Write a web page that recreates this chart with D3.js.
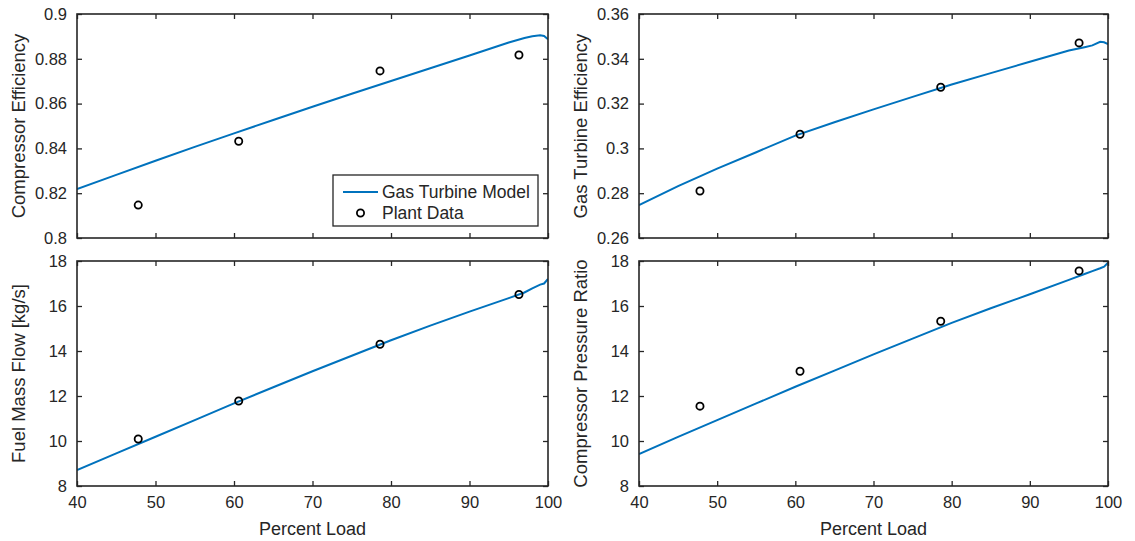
<!DOCTYPE html>
<html>
<head>
<meta charset="utf-8">
<script src="https://cdn.jsdelivr.net/npm/d3@7"></script>
<style>
  body { margin: 0; background: #fff; }
  svg text { font-family: "Liberation Sans", Arial, Helvetica, sans-serif; fill: #262626; }
</style>
</head>
<body>
<div id="chart"></div>
<script>
// model curve sampled along percent load
var loadModel = [40, 45, 50, 55, 60, 65, 70, 75, 80, 85, 90, 95, 97, 98, 99, 99.5, 100];
var compEffModel = [0.8219, 0.8282, 0.8345, 0.8407, 0.8467, 0.8527, 0.8586, 0.8644, 0.8701, 0.8758, 0.8815, 0.8873, 0.8893, 0.8901, 0.8905, 0.8902, 0.8887];
var gtEffModel = [0.2747, 0.2832, 0.2910, 0.2983, 0.3057, 0.3117, 0.3174, 0.3230, 0.3285, 0.3336, 0.3387, 0.3437, 0.3452, 0.3460, 0.3476, 0.3474, 0.3466];
var fuelModel = [8.71, 9.45, 10.19, 10.93, 11.67, 12.39, 13.10, 13.79, 14.48, 15.13, 15.75, 16.35, 16.60, 16.78, 16.95, 17.00, 17.20];
var prModel = [9.42, 10.18, 10.93, 11.67, 12.41, 13.13, 13.85, 14.55, 15.25, 15.90, 16.52, 17.16, 17.42, 17.55, 17.68, 17.75, 17.92];

// plant measurements
var loadPlant = [47.8, 60.6, 78.6, 96.3];
var compEffPlant = [0.8147, 0.8432, 0.8746, 0.8817];
var gtEffPlant = [0.281, 0.3063, 0.3273, 0.3471];
var fuelPlant = [10.09, 11.78, 14.30, 16.51];
var prPlant = [11.55, 13.10, 15.32, 17.56];

var xTicks = [40, 50, 60, 70, 80, 90, 100];

var width = 1135, height = 541;
var blue = "#0072BD", ink = "#262626";

var svg = d3.select("#chart").append("svg")
  .attr("width", width).attr("height", height);

var panels = [
  { x0: 77, x1: 548, y0: 14, y1: 238, dom: [0.8, 0.9], ticks: [0.8, 0.82, 0.84, 0.86, 0.88, 0.9], fmt: d3.format(".2~f"),
    label: "Compressor Efficiency", labelX: 19, model: compEffModel, plant: compEffPlant, legend: true, xlabel: false },
  { x0: 639, x1: 1108, y0: 14, y1: 238, dom: [0.26, 0.36], ticks: [0.26, 0.28, 0.3, 0.32, 0.34, 0.36], fmt: d3.format(".2~f"),
    label: "Gas Turbine Efficiency", labelX: 581, model: gtEffModel, plant: gtEffPlant, xlabel: false },
  { x0: 77, x1: 548, y0: 261, y1: 486, dom: [8, 18], ticks: [8, 10, 12, 14, 16, 18], fmt: d3.format("d"),
    label: "Fuel Mass Flow [kg/s]", labelX: 19, model: fuelModel, plant: fuelPlant, xlabel: true },
  { x0: 639, x1: 1108, y0: 261, y1: 486, dom: [8, 18], ticks: [8, 10, 12, 14, 16, 18], fmt: d3.format("d"),
    label: "Compressor Pressure Ratio", labelX: 581, model: prModel, plant: prPlant, xlabel: true }
];

panels.forEach(function (p) {
  var x = d3.scaleLinear().domain([40, 100]).range([p.x0, p.x1]);
  var y = d3.scaleLinear().domain(p.dom).range([p.y1, p.y0]);
  var g = svg.append("g");

  // clip so the curve stays inside the box
  var cid = "clip" + p.x0 + "_" + p.y0;
  svg.append("clipPath").attr("id", cid).append("rect")
    .attr("x", p.x0).attr("y", p.y0).attr("width", p.x1 - p.x0).attr("height", p.y1 - p.y0);

  var line = d3.line().x(function (d, i) { return x(loadModel[i]); }).y(function (d) { return y(d); });
  g.append("path").datum(p.model)
    .attr("d", line)
    .attr("clip-path", "url(#" + cid + ")")
    .attr("fill", "none").attr("stroke", blue).attr("stroke-width", 2);

  g.selectAll("circle.pt").data(p.plant).enter().append("circle")
    .attr("class", "pt")
    .attr("cx", function (d, i) { return x(loadPlant[i]); })
    .attr("cy", function (d) { return y(d); })
    .attr("r", 3.6)
    .attr("fill", "none").attr("stroke", "#000").attr("stroke-width", 1.8);

  // axes: ticks inward on all four sides
  var tl = 5;
  var ax = g.append("g").attr("class", "axes");
  ax.append("g").attr("transform", "translate(0," + p.y1 + ")")
    .call(d3.axisBottom(x).tickValues(xTicks).tickSizeInner(-tl).tickSizeOuter(0).tickPadding(10)
      .tickFormat(p.xlabel ? d3.format("d") : ""));
  ax.append("g").attr("transform", "translate(0," + p.y0 + ")")
    .call(d3.axisTop(x).tickValues(xTicks).tickSizeInner(-tl).tickSizeOuter(0).tickFormat(""));
  ax.append("g").attr("transform", "translate(" + p.x0 + ",0)")
    .call(d3.axisLeft(y).tickValues(p.ticks).tickSizeInner(-tl).tickSizeOuter(0).tickPadding(10).tickFormat(p.fmt));
  ax.append("g").attr("transform", "translate(" + p.x1 + ",0)")
    .call(d3.axisRight(y).tickValues(p.ticks).tickSizeInner(-tl).tickSizeOuter(0).tickFormat(""));

  ax.selectAll(".domain").remove();
  ax.selectAll("line").attr("stroke", ink).attr("stroke-width", 1.3);
  ax.selectAll("text").attr("fill", ink).style("font-size", "16.5px")
    .style("font-family", "'Liberation Sans', Arial, sans-serif");

  g.append("rect").attr("x", p.x0).attr("y", p.y0)
    .attr("width", p.x1 - p.x0).attr("height", p.y1 - p.y0)
    .attr("fill", "none").attr("stroke", ink).attr("stroke-width", 1.6);

  g.append("text")
    .attr("transform", "translate(" + p.labelX + "," + ((p.y0 + p.y1) / 2) + ") rotate(-90)")
    .attr("text-anchor", "middle").attr("dy", "0.35em")
    .style("font-size", "18.5px")
    .text(p.label);

  if (p.xlabel) {
    g.append("text")
      .attr("x", (p.x0 + p.x1) / 2).attr("y", 535)
      .attr("text-anchor", "middle")
      .style("font-size", "18px")
      .text("Percent Load");
  }

  if (p.legend) {
    var lg = g.append("g").attr("transform", "translate(333,175)");
    lg.append("rect").attr("width", 205).attr("height", 51)
      .attr("fill", "#fff").attr("stroke", ink).attr("stroke-width", 1.3);
    lg.append("line").attr("x1", 10).attr("x2", 45).attr("y1", 17).attr("y2", 17)
      .attr("stroke", blue).attr("stroke-width", 2);
    lg.append("circle").attr("cx", 27.5).attr("cy", 38).attr("r", 3.6)
      .attr("fill", "none").attr("stroke", "#000").attr("stroke-width", 1.8);
    lg.append("text").attr("x", 49).attr("y", 17).attr("dy", "0.35em")
      .style("font-size", "17.5px").text("Gas Turbine Model");
    lg.append("text").attr("x", 49).attr("y", 38).attr("dy", "0.35em")
      .style("font-size", "17.5px").text("Plant Data");
  }
});
</script>
</body>
</html>
